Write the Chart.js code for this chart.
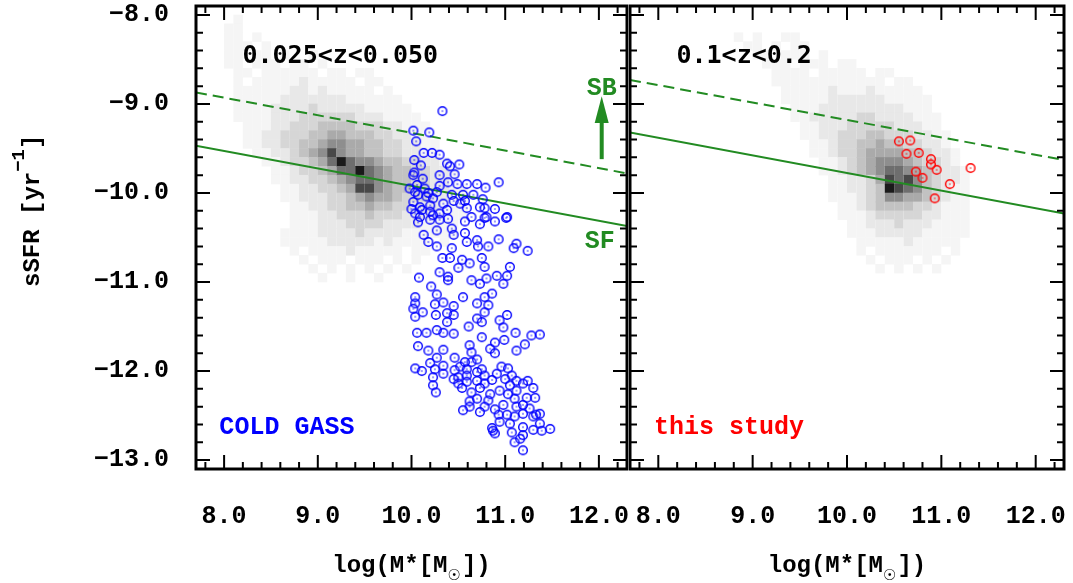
<!DOCTYPE html>
<html>
<head>
<meta charset="UTF-8">
<title>sSFR vs stellar mass</title>
<script src="https://cdn.jsdelivr.net/npm/chart.js"></script>
<style>
  body { margin: 0; background: #fff; }
  #wrap { position: relative; width: 1073px; height: 583px; overflow: hidden; }
  #wrap canvas { position: absolute; top: 0; }
</style>
</head>
<body>
<div id="wrap">
  <canvas id="left" width="640" height="583" style="left:0"></canvas>
  <canvas id="right" width="444" height="583" style="left:629px"></canvas>
</div>
<script>
// tick labels
const xTicks = [8, 9, 10, 11, 12];
const yTicks = [-13, -12, -11, -10, -9, -8];

// star-forming (solid) and starburst (dashed) lines, values at the panel edges
const sfLeft = [[7.7, -9.47], [12.3, -10.37]];
const sbLeft = [[7.7, -8.87], [12.3, -9.78]];
const sfRight = [[7.7, -9.32], [12.3, -10.23]];
const sbRight = [[7.7, -8.73], [12.3, -9.63]];

// COLD GASS galaxies [log M*, sSFR]
const coldGass = [
  [10.33,-9.08],[10.02,-9.30],[10.19,-9.32],[10.05,-9.42],[10.13,-9.55],[10.22,-9.55],[10.30,-9.57],[10.03,-9.63],
  [10.10,-9.69],[10.38,-9.67],[10.41,-9.70],[10.51,-9.68],[10.03,-9.77],[10.02,-9.80],[10.46,-9.79],[10.12,-9.84],
  [10.93,-9.88],[10.30,-9.92],[10.39,-9.88],[10.49,-9.90],[10.59,-9.90],[10.70,-9.90],[10.79,-9.94],[10.06,-9.91],
  [10.04,-9.99],[10.14,-9.95],[10.07,-10.02],[10.16,-10.04],[10.23,-10.06],[10.02,-10.10],[10.34,-10.12],[10.43,-10.02],
  [10.45,-10.09],[10.55,-10.02],[10.57,-10.09],[10.66,-10.02],[10.76,-10.07],[10.00,-10.18],[10.11,-10.19],[10.20,-10.14],
  [10.30,-10.23],[10.59,-10.17],[10.78,-10.17],[10.89,-10.18],[11.02,-10.27],[10.80,-10.27],[10.64,-10.27],[10.09,-10.27],
  [10.23,-10.25],[9.98,-9.95],[10.18,-10.00],[10.09,-10.16],[10.27,-9.99],[10.38,-10.19],[10.52,-10.12],[10.73,-10.16],
  [10.04,-10.23],[10.20,-10.21],[10.30,-9.80],
  [10.07,-10.33],[10.20,-10.30],[10.30,-10.30],[10.39,-10.29],[10.57,-10.32],[10.73,-10.35],[10.78,-10.28],[10.89,-10.32],
  [11.01,-10.28],[10.13,-10.47],[10.27,-10.42],[10.43,-10.40],[10.45,-10.47],[10.57,-10.45],[10.59,-10.55],[10.18,-10.55],
  [10.27,-10.60],[10.43,-10.62],[10.70,-10.53],[10.71,-10.60],[10.82,-10.60],[10.93,-10.52],[11.12,-10.57],[11.09,-10.62],
  [11.24,-10.65],[10.33,-10.73],[10.41,-10.73],[10.54,-10.75],[10.62,-10.79],[10.75,-10.73],[10.50,-10.84],[10.78,-10.83],
  [11.05,-10.83],[10.30,-10.89],[10.08,-10.95],[10.39,-10.94],[10.39,-10.98],[10.64,-10.98],[10.73,-11.02],[10.80,-10.96],
  [10.91,-10.93],[11.02,-10.93],[10.98,-11.02],[10.21,-11.05],[10.04,-11.17],[10.04,-11.24],[10.27,-11.14],[10.25,-11.25],
  [10.34,-11.23],[10.45,-11.27],[10.55,-11.17],[10.70,-11.24],[10.78,-11.17],[10.86,-11.13],[10.82,-11.26],[10.02,-11.30],
  [10.12,-11.34],[10.04,-11.39],[10.26,-11.37],[10.38,-11.35],[10.45,-11.37],[10.70,-11.41],[10.75,-11.45],[10.78,-11.34],
  [10.94,-11.43],[11.02,-11.37],[10.38,-11.45],[10.61,-11.50],[10.98,-11.51],[10.06,-11.57],[10.16,-11.57],[10.27,-11.54],
  [10.34,-11.57],[10.45,-11.58],[10.75,-11.62],[11.11,-11.57],[11.28,-11.60],[11.37,-11.59],
  [10.07,-11.72],[10.18,-11.77],[10.34,-11.76],[10.62,-11.71],[10.89,-11.68],[10.99,-11.65],[10.84,-11.75],[10.89,-11.80],
  [11.12,-11.77],[11.21,-11.70],[10.64,-11.79],[10.27,-11.85],[10.46,-11.85],[10.70,-11.87],[10.04,-11.97],[10.11,-12.00],
  [10.20,-11.91],[10.25,-11.98],[10.34,-11.94],[10.34,-12.03],[10.23,-12.07],[10.46,-11.99],[10.52,-11.95],[10.57,-11.90],
  [10.64,-11.90],[10.50,-12.07],[10.59,-12.05],[10.70,-12.01],[10.78,-12.05],[10.91,-12.03],[10.96,-11.95],[11.03,-11.97],
  [11.07,-12.05],[10.50,-12.14],[10.59,-12.12],[10.70,-12.11],[10.78,-12.14],[10.86,-12.10],[10.23,-12.16],[10.26,-12.24],
  [10.54,-12.19],[10.64,-12.24],[10.70,-12.31],[10.62,-12.34],[10.55,-12.44],[10.73,-12.46],[10.82,-12.33],[10.89,-12.43],
  [10.93,-12.49],[10.84,-12.26],[10.94,-12.22],[11.03,-12.26],[11.05,-12.16],[11.12,-12.22],[11.10,-12.31],[11.19,-12.14],
  [11.24,-12.11],[11.30,-12.19],[11.23,-12.30],[11.32,-12.30],[11.19,-12.38],[11.02,-12.49],[11.10,-12.51],[11.19,-12.48],
  [11.33,-12.49],[11.37,-12.59],[11.30,-12.66],[11.48,-12.65],[11.39,-12.67],[11.19,-12.63],[11.19,-12.72],[11.07,-12.69],
  [11.10,-12.80],[11.16,-12.76],[11.19,-12.89],[10.86,-12.64],[10.89,-12.70],[10.87,-12.67],[11.05,-12.59],
  [10.45,-12.09],[10.73,-12.19],[10.98,-12.38],[11.12,-12.40],[11.26,-12.42],[11.37,-12.48],[10.59,-11.98],[10.75,-11.98],
  [11.00,-12.09],[11.12,-12.11],[10.62,-12.40],[10.94,-12.57],[11.30,-12.51],[10.78,-12.40]
];

// this study
const thisStudy = [
  [10.55,-9.42],[10.67,-9.41],[10.63,-9.56],[10.76,-9.55],[10.89,-9.62],[10.89,-9.68],
  [10.95,-9.74],[10.73,-9.76],[10.80,-9.83],[11.31,-9.72],[11.09,-9.90],[10.93,-10.06]
];

// grey density maps, 0.1 dex bins: row r covers sSFR -8.0-0.1r .. -8.1-0.1r,
// column c covers log M* 7.8+0.1c .. 7.9+0.1c; digit = shade level 0..9
const histLeft = [
  "0001",
  "0011",
  "001101",
  "0011101",
  "001101101001",
  "0011011101101",
  "000110111111011011",
  "0001011111211111011",
  "00011111122121111101",
  "000111112222222111111",
  "0001111222232222211111",
  "00011112223333332221111",
  "000011122333444433322111",
  "000011223334455444332211",
  "0000112233445665544332211",
  "0000011223456865544332211",
  "00000011233457976654433221",
  "000000011233457797654433221",
  "000000011223345677654433221",
  "0000000011223345886544332211",
  "0000000011222334565543332211",
  "0000000001122334454433222111",
  "0000000001112233343332221111",
  "000000000111222333322221111",
  "000000001111222232222111111",
  "00000000111112222212111101",
  "000000000101111211111011",
  "00000000001011101110101",
  "0000000000010101010101",
  "0000000000001001001"
];
const histRight = [
  "",
  "",
  "00000000001010011",
  "000000000001101011",
  "00000000000011011101",
  "00000000000001110111011",
  "000000000000001111011111011",
  "00000000000000111111111111011",
  "000000000000000111112111211111",
  "0000000000000001111122222211111",
  "0000000000000000111222222222111",
  "00000000000000001122222332222111",
  "00000000000000000112223333322211",
  "000000000000000001122333443332211",
  "000000000000000000112334454433221",
  "0000000000000000001123345555443221",
  "0000000000000000000112345666543321",
  "00000000000000000001123456776543221",
  "00000000000000000000112235878643221",
  "00000000000000000000112234987643211",
  "00000000000000000000111234665543211",
  "00000000000000000000011234444332111",
  "00000000000000000000011123333322111",
  "00000000000000000000001122232221111",
  "00000000000000000000001112222211111",
  "0000000000000000000000011111211111",
  "0000000000000000000000010111111101",
  "000000000000000000000000101110101",
  "00000000000000000000000001010101"
];

const shades = [255, 245, 232, 214, 194, 170, 142, 110, 72, 26];
const green = '#228b22';
const mono = '"Liberation Mono", "Courier New", monospace';
const sansMono = '"DejaVu Sans Mono", monospace';

function cells(rows) {
  const out = [];
  rows.forEach((s, r) => {
    [...s].forEach((ch, c) => {
      const lv = +ch;
      if (lv) out.push({ x: 7.85 + 0.1 * c, y: -8.05 - 0.1 * r, v: lv });
    });
  });
  return out;
}

function ring(color) {
  const c = document.createElement('canvas');
  c.width = c.height = 12;
  const g = c.getContext('2d');
  g.strokeStyle = color;
  g.lineWidth = 1.4;
  g.beginPath(); g.arc(6, 6, 4.3, 0, Math.PI * 2); g.stroke();
  g.fillStyle = color;
  g.beginPath(); g.arc(6, 6, 0.75, 0, Math.PI * 2); g.fill();
  return c;
}

const xy = arr => arr.map(([x, y]) => ({ x, y }));

function lineSet(pts, dash) {
  return { data: xy(pts), showLine: true, borderColor: green, borderWidth: 2,
           borderDash: dash, pointRadius: 0, order: 1 };
}

// inward ticks + box
const frame = {
  id: 'frame',
  afterDraw(chart) {
    const { ctx, chartArea: a, scales: { x, y } } = chart;
    ctx.save();
    ctx.strokeStyle = '#000';
    ctx.lineWidth = 2;
    ctx.beginPath();
    for (let k = 39; k <= 61; k++) {
      const px = x.getPixelForValue(k / 5);
      const len = k % 5 === 0 ? 14 : 7;
      ctx.moveTo(px, a.bottom); ctx.lineTo(px, a.bottom - len);
      ctx.moveTo(px, a.top); ctx.lineTo(px, a.top + len);
    }
    for (let k = -65; k <= -40; k++) {
      const py = y.getPixelForValue(k / 5);
      const len = k % 5 === 0 ? 14 : 7;
      ctx.moveTo(a.left, py); ctx.lineTo(a.left + len, py);
      ctx.moveTo(a.right, py); ctx.lineTo(a.right - len, py);
    }
    ctx.stroke();
    ctx.lineWidth = 3;
    ctx.strokeRect(a.left, a.top, a.right - a.left, a.bottom - a.top);
    ctx.restore();
  }
};

function xTitle(ctx, a) {
  const cx = (a.left + a.right) / 2, base = 572;
  const big = 'bold 24px ' + mono, sun = 'bold 15px "DejaVu Sans"';
  ctx.font = big;
  const w1 = ctx.measureText('log(M*[M').width, w3 = ctx.measureText('])').width;
  ctx.font = sun;
  const w2 = ctx.measureText('\u2609').width + 1;
  let x0 = cx - (w1 + w2 + w3) / 2;
  ctx.textAlign = 'left';
  ctx.textBaseline = 'alphabetic';
  ctx.font = big; ctx.fillText('log(M*[M', x0, base);
  ctx.font = sun; ctx.fillText('\u2609', x0 + w1, base + 8);
  ctx.font = big; ctx.fillText('])', x0 + w1 + w2, base);
}

function notes(items, arrow, yTitle) {
  return {
    id: 'notes',
    afterDraw(chart) {
      const { ctx, chartArea: a, scales: { x, y } } = chart;
      ctx.save();
      ctx.fillStyle = '#000';
      xTitle(ctx, a);
      if (yTitle) {
        ctx.save();
        ctx.translate(39, 287);
        ctx.rotate(-Math.PI / 2);
        ctx.textAlign = 'left';
        ctx.font = 'bold 24px ' + mono;
        ctx.fillText('sSFR [yr', 0, 0);
        let w = ctx.measureText('sSFR [yr').width;
        ctx.font = 'bold 19px ' + mono;
        ctx.fillText('\u22121', w, -15);
        w += ctx.measureText('\u22121').width;
        ctx.font = 'bold 24px ' + mono;
        ctx.fillText(']', w, 0);
        ctx.restore();
      }
      ctx.textAlign = 'center';
      ctx.textBaseline = 'alphabetic';
      items.forEach(t => {
        ctx.font = t.font;
        ctx.fillStyle = t.color;
        ctx.fillText(t.text, x.getPixelForValue(t.x), y.getPixelForValue(t.y));
      });
      if (arrow) {
        const px = x.getPixelForValue(arrow.x);
        const tip = y.getPixelForValue(arrow.tip), base = y.getPixelForValue(arrow.base),
              tail = y.getPixelForValue(arrow.tail);
        ctx.fillStyle = green;
        ctx.fillRect(px - 2, base - 1, 4, tail - base + 1);
        ctx.beginPath();
        ctx.moveTo(px, tip); ctx.lineTo(px + 7, base); ctx.lineTo(px - 7, base);
        ctx.closePath(); ctx.fill();
      }
      ctx.restore();
    }
  };
}

function panel(id, cfg) {
  const tickFont = { family: mono, size: 25, weight: 'bold' };
  return new Chart(document.getElementById(id), {
    type: 'scatter',
    data: {
      datasets: [
        { data: xy(cfg.points), pointStyle: ring(cfg.color), pointRadius: 5, order: 0 },
        lineSet(cfg.sf, []),
        lineSet(cfg.sb, [11, 6]),
        { data: cells(cfg.hist), pointStyle: 'rect', pointRadius: 6.67, pointBorderWidth: 0,
          pointBackgroundColor: c => {
            const g = c.raw ? shades[c.raw.v] : 255;
            return `rgb(${g},${g},${g})`;
          }, order: 2 }
      ]
    },
    options: {
      responsive: false,
      animation: false,
      events: [],
      layout: { padding: cfg.pad, autoPadding: false },
      plugins: { legend: { display: false }, tooltip: { enabled: false } },
      scales: {
        x: {
          type: 'linear', min: 7.7, max: 12.3,
          grid: { display: false, drawTicks: false }, border: { display: false },
          afterBuildTicks: s => { s.ticks = xTicks.map(v => ({ value: v })); },
          afterFit: s => { s.height = 114; s.paddingLeft = 0; s.paddingRight = 0; },
          ticks: { padding: 33, autoSkip: false, maxRotation: 0, color: '#000', font: tickFont,
                   callback: v => v.toFixed(1) }
        },
        y: {
          type: 'linear', min: -13.1, max: -7.9,
          grid: { display: false, drawTicks: false, tickLength: 0 }, border: { display: false },
          afterBuildTicks: s => { s.ticks = yTicks.map(v => ({ value: v })); },
          afterFit: s => { s.width = cfg.yLabels ? 196 : 0; s.paddingTop = 0; s.paddingBottom = 0; },
          ticks: { display: cfg.yLabels, padding: 27, color: '#000', font: tickFont,
                   callback: v => v.toFixed(1).replace('-', '\u2212') }
        }
      }
    },
    plugins: [frame, cfg.notes]
  });
}

panel('left', {
  points: coldGass, color: '#0000ff', sf: sfLeft, sb: sbLeft, hist: histLeft,
  pad: { left: 0, top: 6, right: 13, bottom: 0 }, yLabels: true,
  notes: notes([
    { text: '0.025<z<0.050', x: 9.24, y: -8.54, font: 'bold 25px ' + sansMono, color: '#000' },
    { text: 'COLD GASS', x: 8.67, y: -12.71, font: 'bold 25px ' + mono, color: '#0000ff' },
    { text: 'SB', x: 12.03, y: -8.90, font: 'bold 25px ' + mono, color: green },
    { text: 'SF', x: 12.01, y: -10.62, font: 'bold 25px ' + mono, color: green }
  ], { x: 12.03, tip: -8.915, base: -9.215, tail: -9.62 }, true)
});

panel('right', {
  points: thisStudy, color: '#ff0000', sf: sfRight, sb: sbRight, hist: histRight,
  pad: { left: 1, top: 6, right: 9, bottom: 0 }, yLabels: false,
  notes: notes([
    { text: '0.1<z<0.2', x: 8.91, y: -8.54, font: 'bold 25px ' + sansMono, color: '#000' },
    { text: 'this study', x: 8.75, y: -12.71, font: 'bold 25px ' + mono, color: '#ff0000' }
  ], null, false)
});
</script>
</body>
</html>
